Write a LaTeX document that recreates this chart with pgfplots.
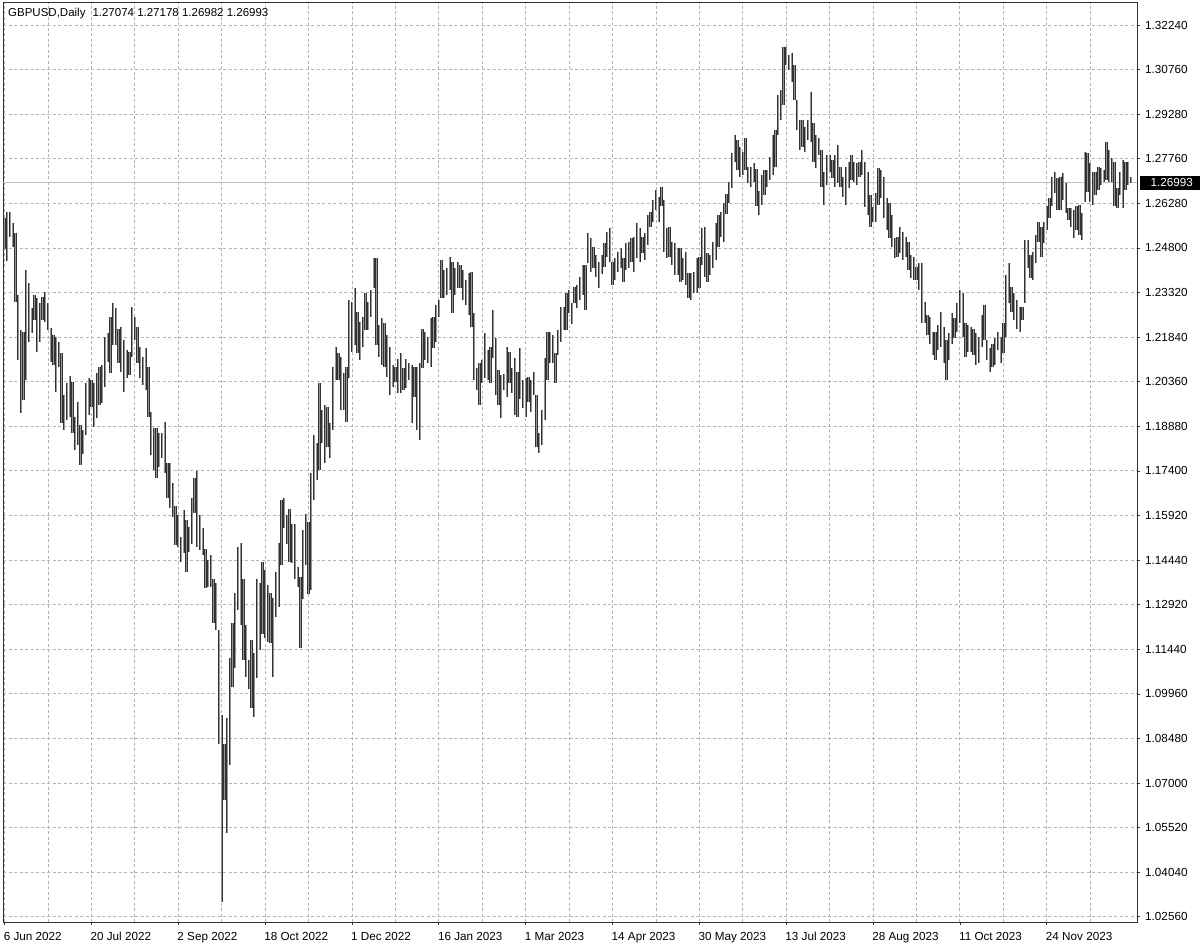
\documentclass[border=0pt]{standalone}
\usepackage{pgfplots}
\pgfplotsset{compat=1.18}
\usepackage{pgfplotstable}
\usepackage{fontspec}
\setmainfont{Liberation Sans}
\definecolor{barDark}{RGB}{50,50,50}
\definecolor{barLight}{RGB}{150,150,150}
\definecolor{gridc}{RGB}{180,180,180}
\definecolor{framec}{RGB}{50,50,50}
\definecolor{pricec}{RGB}{192,192,192}
\pgfplotstableread{
i h l
0 1.2581 1.2478
1 1.2603 1.2437
2 1.2603 1.2517
3 1.2564 1.2486
4 1.2531 1.2303
5 1.2326 1.2109
6 1.2209 1.1932
7 1.2204 1.1976
8 1.2409 1.2043
9 1.2364 1.2170
10 1.2281 1.2198
11 1.2326 1.2242
12 1.2315 1.2137
13 1.2298 1.2170
14 1.2320 1.2242
15 1.2337 1.2237
16 1.2298 1.2209
17 1.2215 1.2104
18 1.2192 1.2093
19 1.2187 1.2004
20 1.2170 1.2087
21 1.2131 1.1898
22 1.1993 1.1876
23 1.2034 1.1910
24 1.2056 1.1921
25 1.2037 1.1865
26 1.1921 1.1810
27 1.1971 1.1826
28 1.1893 1.1760
29 1.1876 1.1798
30 1.2034 1.1860
31 1.2048 1.1926
32 1.2043 1.1954
33 1.2031 1.1887
34 1.2065 1.1915
35 1.2087 1.1959
36 1.2092 1.1965
37 1.2187 1.2020
38 1.2198 1.2104
39 1.2253 1.2065
40 1.2298 1.2159
41 1.2281 1.2159
42 1.2211 1.2098
43 1.2220 1.2070
44 1.2176 1.2004
45 1.2142 1.2048
46 1.2137 1.2059
47 1.2284 1.2120
48 1.2251 1.2176
49 1.2220 1.2098
50 1.2153 1.2048
51 1.2120 1.2026
52 1.2148 1.2009
53 1.2087 1.1921
54 1.1937 1.1793
55 1.1882 1.1743
56 1.1882 1.1715
57 1.1867 1.1754
58 1.1867 1.1782
59 1.1904 1.1732
60 1.1765 1.1649
61 1.1765 1.1616
62 1.1699 1.1588
63 1.1623 1.1494
64 1.1593 1.1488
65 1.1521 1.1438
66 1.1610 1.1466
67 1.1577 1.1405
68 1.1555 1.1470
69 1.1649 1.1496
70 1.1716 1.1599
71 1.1741 1.1488
72 1.1593 1.1477
73 1.1549 1.1460
74 1.1479 1.1349
75 1.1444 1.1355
76 1.1460 1.1355
77 1.1382 1.1233
78 1.1366 1.1211
79 1.1211 1.0833
80 1.0928 1.0307
81 1.0833 1.0645
82 1.0917 1.0534
83 1.1116 1.0761
84 1.1233 1.1022
85 1.1333 1.1083
86 1.1488 1.1277
87 1.1499 1.1227
88 1.1382 1.1111
89 1.1227 1.1055
90 1.1111 1.1016
91 1.1178 1.0950
92 1.1133 1.0922
93 1.1382 1.1050
94 1.1366 1.1144
95 1.1438 1.1199
96 1.1410 1.1183
97 1.1360 1.1172
98 1.1333 1.1166
99 1.1316 1.1055
100 1.1405 1.1255
101 1.1499 1.1288
102 1.1643 1.1427
103 1.1649 1.1549
104 1.1593 1.1498
105 1.1615 1.1438
106 1.1565 1.1432
107 1.1565 1.1382
108 1.1421 1.1354
109 1.1388 1.1150
110 1.1543 1.1315
111 1.1598 1.1426
112 1.1571 1.1332
113 1.1732 1.1343
114 1.1860 1.1643
115 1.1832 1.1710
116 1.2031 1.1743
117 1.1943 1.1832
118 1.1959 1.1765
119 1.1954 1.1821
120 1.1898 1.1782
121 1.2087 1.1876
122 1.2153 1.2043
123 1.2131 1.2043
124 1.2120 1.1943
125 1.2065 1.1943
126 1.2087 1.1904
127 1.2309 1.2048
128 1.2303 1.2137
129 1.2348 1.2159
130 1.2270 1.2131
131 1.2237 1.2109
132 1.2253 1.2153
133 1.2331 1.2209
134 1.2303 1.2209
135 1.2342 1.2253
136 1.2447 1.2348
137 1.2447 1.2159
138 1.2225 1.2120
139 1.2248 1.2092
140 1.2231 1.2087
141 1.2192 1.2054
142 1.2153 1.1993
143 1.2092 1.2020
144 1.2087 1.2037
145 1.2114 1.1998
146 1.2131 1.1998
147 1.2081 1.2009
148 1.2114 1.2015
149 1.2098 1.2043
150 1.2092 1.1898
151 1.2087 1.1987
152 1.2087 1.1876
153 1.2098 1.1843
154 1.2214 1.2081
155 1.2203 1.2109
156 1.2187 1.2098
157 1.2248 1.2087
158 1.2253 1.2148
159 1.2292 1.2170
160 1.2309 1.2253
161 1.2442 1.2314
162 1.2409 1.2314
163 1.2414 1.2325
164 1.2453 1.2342
165 1.2436 1.2264
166 1.2414 1.2325
167 1.2436 1.2348
168 1.2425 1.2348
169 1.2409 1.2309
170 1.2375 1.2292
171 1.2398 1.2259
172 1.2403 1.2220
173 1.2264 1.2042
174 1.2081 1.2009
175 1.2098 1.1959
176 1.2109 1.2031
177 1.2198 1.2048
178 1.2142 1.2042
179 1.2153 1.2031
180 1.2276 1.2115
181 1.2181 1.1993
182 1.2076 1.1959
183 1.2059 1.1915
184 1.2064 1.2009
185 1.2153 1.1987
186 1.2137 1.2031
187 1.2081 1.1998
188 1.2115 1.1926
189 1.2070 1.1920
190 1.2148 1.1981
191 1.2042 1.1948
192 1.2048 1.1920
193 1.2054 1.1970
194 1.2042 1.1937
195 1.2070 1.1993
196 1.1993 1.1821
197 1.1865 1.1799
198 1.1943 1.1826
199 1.2115 1.1909
200 1.2203 1.2042
201 1.2203 1.2098
202 1.2192 1.2098
203 1.2131 1.2031
204 1.2209 1.2126
205 1.2287 1.2170
206 1.2287 1.2209
207 1.2331 1.2209
208 1.2342 1.2264
209 1.2300 1.2230
210 1.2353 1.2298
211 1.2359 1.2281
212 1.2386 1.2309
213 1.2425 1.2325
214 1.2425 1.2275
215 1.2531 1.2431
216 1.2514 1.2403
217 1.2486 1.2414
218 1.2459 1.2386
219 1.2436 1.2348
220 1.2459 1.2397
221 1.2497 1.2420
222 1.2536 1.2453
223 1.2547 1.2436
224 1.2436 1.2359
225 1.2447 1.2375
226 1.2470 1.2403
227 1.2481 1.2414
228 1.2447 1.2370
229 1.2497 1.2409
230 1.2503 1.2414
231 1.2514 1.2436
232 1.2520 1.2403
233 1.2564 1.2447
234 1.2547 1.2436
235 1.2520 1.2464
236 1.2531 1.2442
237 1.2592 1.2492
238 1.2603 1.2553
239 1.2642 1.2570
240 1.2675 1.2608
241 1.2653 1.2570
242 1.2686 1.2620
243 1.2642 1.2470
244 1.2547 1.2447
245 1.2553 1.2453
246 1.2503 1.2425
247 1.2497 1.2392
248 1.2481 1.2392
249 1.2481 1.2370
250 1.2447 1.2375
251 1.2470 1.2359
252 1.2398 1.2314
253 1.2398 1.2309
254 1.2403 1.2331
255 1.2447 1.2331
256 1.2453 1.2348
257 1.2547 1.2425
258 1.2553 1.2386
259 1.2464 1.2370
260 1.2459 1.2392
261 1.2503 1.2414
262 1.2564 1.2442
263 1.2592 1.2486
264 1.2603 1.2520
265 1.2631 1.2503
266 1.2660 1.2595
267 1.2703 1.2631
268 1.2797 1.2680
269 1.2858 1.2769
270 1.2841 1.2741
271 1.2819 1.2719
272 1.2802 1.2725
273 1.2847 1.2741
274 1.2752 1.2697
275 1.2752 1.2686
276 1.2764 1.2703
277 1.2745 1.2620
278 1.2672 1.2592
279 1.2725 1.2625
280 1.2741 1.2658
281 1.2741 1.2686
282 1.2786 1.2708
283 1.2858 1.2725
284 1.2874 1.2752
285 1.2991 1.2858
286 1.3008 1.2908
287 1.3152 1.2958
288 1.3152 1.3091
289 1.3124 1.3074
290 1.3130 1.3035
291 1.3091 1.2974
292 1.2974 1.2874
293 1.2908 1.2808
294 1.2908 1.2819
295 1.2886 1.2802
296 1.2908 1.2841
297 1.3002 1.2836
298 1.2897 1.2769
299 1.2858 1.2747
300 1.2847 1.2791
301 1.2808 1.2686
302 1.2736 1.2625
303 1.2791 1.2691
304 1.2791 1.2736
305 1.2775 1.2714
306 1.2791 1.2686
307 1.2825 1.2697
308 1.2752 1.2686
309 1.2719 1.2653
310 1.2752 1.2625
311 1.2769 1.2680
312 1.2791 1.2708
313 1.2769 1.2703
314 1.2764 1.2691
315 1.2769 1.2719
316 1.2808 1.2725
317 1.2769 1.2619
318 1.2736 1.2592
319 1.2658 1.2553
320 1.2619 1.2569
321 1.2664 1.2569
322 1.2747 1.2625
323 1.2741 1.2647
324 1.2719 1.2581
325 1.2647 1.2542
326 1.2631 1.2514
327 1.2592 1.2486
328 1.2514 1.2447
329 1.2519 1.2453
330 1.2553 1.2464
331 1.2536 1.2442
332 1.2519 1.2453
333 1.2503 1.2408
334 1.2458 1.2381
335 1.2453 1.2375
336 1.2420 1.2375
337 1.2431 1.2342
338 1.2431 1.2231
339 1.2303 1.2231
340 1.2259 1.2192
341 1.2253 1.2164
342 1.2203 1.2126
343 1.2203 1.2109
344 1.2226 1.2142
345 1.2270 1.2153
346 1.2220 1.2098
347 1.2176 1.2042
348 1.2198 1.2109
349 1.2264 1.2164
350 1.2248 1.2181
351 1.2298 1.2203
352 1.2342 1.2231
353 1.2331 1.2187
354 1.2231 1.2120
355 1.2226 1.2137
356 1.2220 1.2137
357 1.2214 1.2126
358 1.2198 1.2092
359 1.2187 1.2098
360 1.2259 1.2153
361 1.2292 1.2176
362 1.2176 1.2109
363 1.2148 1.2070
364 1.2164 1.2087
365 1.2181 1.2092
366 1.2203 1.2142
367 1.2187 1.2098
368 1.2231 1.2131
369 1.2392 1.2187
370 1.2431 1.2298
371 1.2353 1.2270
372 1.2331 1.2242
373 1.2309 1.2214
374 1.2287 1.2203
375 1.2287 1.2242
376 1.2508 1.2298
377 1.2508 1.2414
378 1.2459 1.2381
379 1.2470 1.2375
380 1.2525 1.2431
381 1.2570 1.2503
382 1.2553 1.2453
383 1.2570 1.2497
384 1.2620 1.2542
385 1.2647 1.2581
386 1.2719 1.2620
387 1.2736 1.2664
388 1.2714 1.2608
389 1.2719 1.2608
390 1.2730 1.2642
391 1.2697 1.2597
392 1.2614 1.2575
393 1.2614 1.2553
394 1.2609 1.2514
395 1.2620 1.2542
396 1.2625 1.2525
397 1.2597 1.2509
398 1.2803 1.2636
399 1.2797 1.2669
400 1.2764 1.2636
401 1.2736 1.2625
402 1.2736 1.2658
403 1.2753 1.2675
404 1.2747 1.2692
405 1.2742 1.2703
406 1.2836 1.2708
407 1.2808 1.2703
408 1.2780 1.2703
409 1.2769 1.2620
410 1.2681 1.2614
411 1.2736 1.2658
412 1.2775 1.2614
413 1.2769 1.2675
414 1.2769 1.2692
415 1.27178 1.26982
}\bars
\begin{document}
\begin{tikzpicture}
\begin{axis}[
  scale only axis, width=1134pt, height=919pt,
  xmin=-0.58, xmax=417.25, ymin=1.0239, ymax=1.32972,
  axis line style={draw=framec, line width=1pt},
  xtick={0,32,...,384},
  xticklabels={6 Jun 2022,20 Jul 2022,2 Sep 2022,18 Oct 2022,1 Dec 2022,16 Jan 2023,1 Mar 2023,14 Apr 2023,30 May 2023,13 Jul 2023,28 Aug 2023,11 Oct 2023,24 Nov 2023},
  minor xtick={16,48,...,416},
  ytick={1.0256,1.04044,1.05528,1.07012,1.08496,1.0998,1.11464,1.12948,1.14432,1.15916,1.174,1.18884,1.20368,1.21852,1.23336,1.2482,1.26304,1.27788,1.29272,1.30756,1.3224},
  yticklabels={1.02560,1.04040,1.05520,1.07000,1.08480,1.09960,1.11440,1.12920,1.14440,1.15920,1.17400,1.18880,1.20360,1.21840,1.23320,1.24800,1.26280,1.27760,1.29280,1.30760,1.32240},
  xmajorgrids, xminorgrids, ymajorgrids,
  grid style={draw=gridc, line width=0.9pt, dash pattern=on 3pt off 2.5pt},
  minor grid style={draw=gridc, line width=0.9pt, dash pattern=on 3pt off 2.5pt},
  xtick pos=bottom, ytick pos=right, yticklabel pos=right,
  tick align=outside, major tick length=3pt, minor tick length=0pt,
  tick style={draw=framec, line width=0.8pt},
  ticklabel style={font=\fontsize{11.7}{14}\selectfont, text=black},
  xticklabel style={anchor=north west, inner sep=0pt, xshift=-1pt, yshift=-7pt},
  yticklabel style={anchor=west, inner sep=0pt, xshift=5pt},
  clip=true,
]
\addplot[pricec, line width=1pt, forget plot] coordinates {(-0.58,1.26993) (417.25,1.26993)};
\addplot[draw=none, mark=none, forget plot,
  error bars/.cd, y dir=minus, y explicit, error mark=none,
  error bar style={draw=barDark, line width=2.3pt, solid}]
  table[x=i, y=h, y error minus expr=\thisrow{h}-\thisrow{l}] {\bars};
\addplot[draw=none, mark=none, forget plot,
  error bars/.cd, y dir=minus, y explicit, error mark=none,
  error bar style={draw=barLight, line width=0.6pt, solid}]
  table[x=i, y=h, y error minus expr=\thisrow{h}-\thisrow{l}] {\bars};
\end{axis}
\node[anchor=base west, inner sep=0pt, font=\fontsize{11.5}{14}\selectfont] at (5pt,905.5pt) {GBPUSD,Daily\hspace{7pt}1.27074 1.27178 1.26982 1.26993};
\node[anchor=west, fill=black, text=white, minimum width=60pt, minimum height=14pt, inner sep=0pt, font=\fontsize{11.7}{14}\selectfont] at (1137pt, {(1.26993-1.0239)/(1.32972-1.0239)*919pt}) {\hspace{3pt}1.26993};
\pgfresetboundingbox
\path (-3pt,-29pt) rectangle (1197pt,922pt);
\end{tikzpicture}
\end{document}
